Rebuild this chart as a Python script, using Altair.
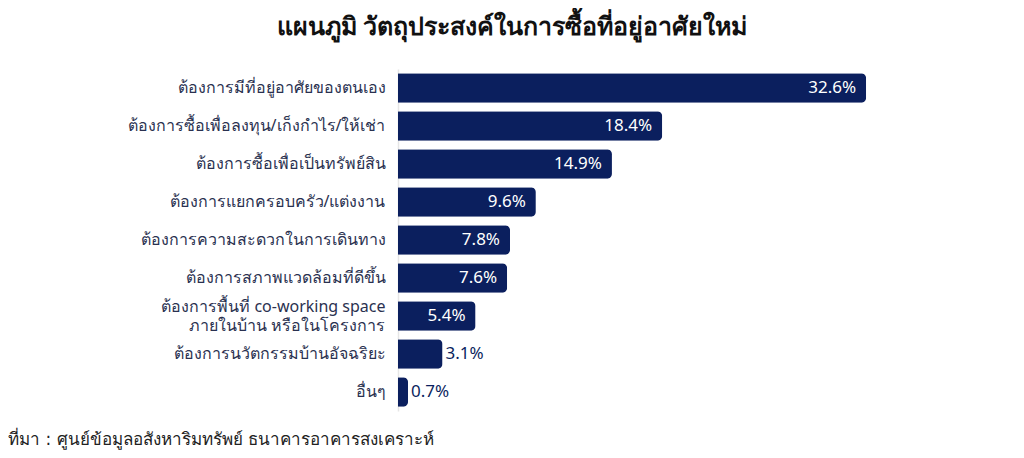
import altair as alt
import pandas as pd

categories = [
    "ต้องการมีที่อยู่อาศัยของตนเอง",
    "ต้องการซื้อเพื่อลงทุน/เก็งกำไร/ให้เช่า",
    "ต้องการซื้อเพื่อเป็นทรัพย์สิน",
    "ต้องการแยกครอบครัว/แต่งงาน",
    "ต้องการความสะดวกในการเดินทาง",
    "ต้องการสภาพแวดล้อมที่ดีขึ้น",
    "ต้องการพื้นที่ co-working space \nภายในบ้าน หรือในโครงการ",
    "ต้องการนวัตกรรมบ้านอัจฉริยะ",
    "อื่นๆ",
]
values = [32.6, 18.4, 14.9, 9.6, 7.8, 7.6, 5.4, 3.1, 0.7]
labels = ["32.6%", "18.4%", "14.9%", "9.6%", "7.8%", "7.6%", "5.4%", "3.1%", "0.7%"]

title_text = "แผนภูมิ วัตถุประสงค์ในการซื้อที่อยู่อาศัยใหม่"
source_text = "ที่มา : ศูนย์ข้อมูลอสังหาริมทรัพย์ ธนาคารอาคารสงเคราะห์"

NAVY = "#0b1f5e"
FONT = "Noto Sans"

df = pd.DataFrame({"cat": categories, "val": values, "lab": labels})
df["inside"] = df["val"] >= 5

y_enc = alt.Y(
    "cat:N",
    sort=categories,
    title=None,
    scale=alt.Scale(paddingInner=0.22, paddingOuter=0.11),
    axis=alt.Axis(
        labelExpr="split(datum.label, '\\n')",
        labelFontSize=16,
        labelColor="#2a3150",
        labelFont=FONT,
        labelPadding=13,
        ticks=False,
        domainColor="#e6e6e6",
        domainWidth=1.5,
        labelLimit=400,
        labelLineHeight=19,
        labelOffset={"condition": {"test": "indexof(datum.value, '\\n') >= 0", "value": -9}, "value": 0},
        grid=False,
    ),
)
x_enc = alt.X("val:Q", scale=alt.Scale(domain=[0, 39]), axis=None)

bars = alt.Chart(df).mark_bar(
    color=NAVY, cornerRadiusTopRight=5, cornerRadiusBottomRight=5
).encode(x=x_enc, y=y_enc)

text_in = alt.Chart(df).transform_filter("datum.inside").mark_text(
    align="right", baseline="middle", dx=-10, color="white",
    fontSize=17, font=FONT
).encode(x=x_enc, y=y_enc, text="lab:N")

text_out = alt.Chart(df).transform_filter("!datum.inside").mark_text(
    align="left", baseline="middle", dx=3, color=NAVY,
    fontSize=17, font=FONT
).encode(x=x_enc, y=y_enc, text="lab:N")

source = alt.Chart(pd.DataFrame({"t": [source_text]})).mark_text(
    align="left", baseline="middle", fontSize=17, font="DejaVu Sans", color="#222"
).encode(x=alt.value(-390), y=alt.value(371), text="t:N")

chart = (
    alt.layer(bars, text_in, text_out, source)
    .properties(
        width=560,
        height=342,
        background="white",
        autosize=alt.AutoSizeParams(type="none"),
        padding={"left": 390, "top": 61, "right": 0, "bottom": 55},
        title=alt.TitleParams(
            title_text, fontSize=25, font=FONT, fontWeight="bold",
            color="#111", anchor="middle", frame="group", dx=-166, offset=29,
        ),
    )
    .configure_view(strokeWidth=0, stroke="transparent")
    .configure_axisX(domain=False, grid=False)
)

chart.save("out.html", embed_options={"renderer": "svg", "actions": False})
